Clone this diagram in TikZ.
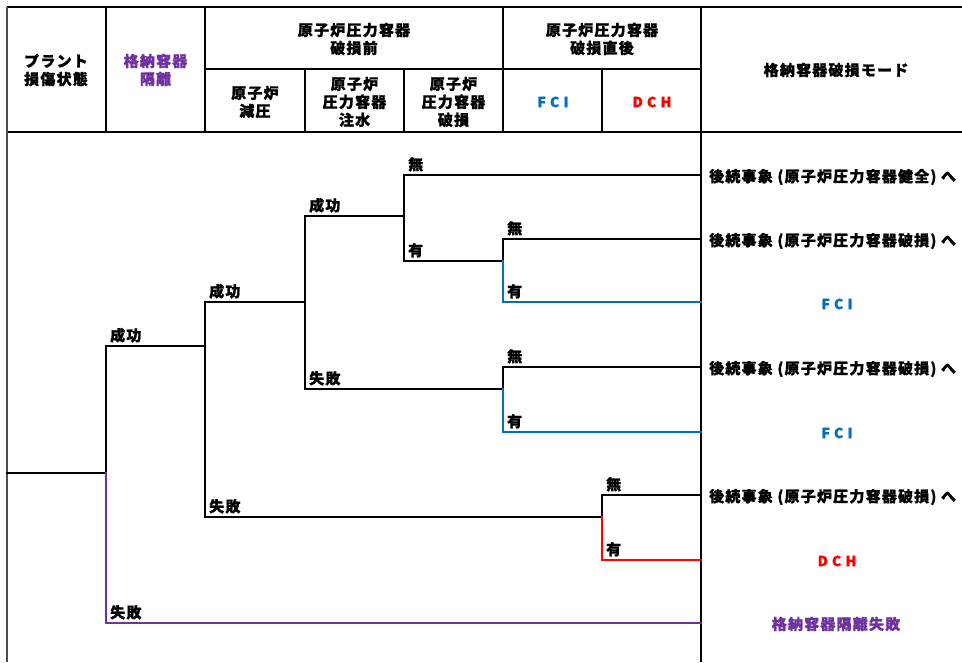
\documentclass[tikz,border=0pt]{standalone}
\usepackage{fontspec}
\setmainfont{Noto Sans CJK JP}
\definecolor{fciblue}{HTML}{0070C0}
\definecolor{dchred}{HTML}{FF0000}
\definecolor{isopurple}{HTML}{7030A0}
\tikzset{
  grid/.style={line width=1.6pt, black},
  tree/.style={line width=2pt, black, line cap=rect},
  jptext/.style={inner sep=0, font=\bfseries\fontsize{15}{18}\selectfont\addfontfeature{LetterSpace=8,FakeBold=1.2}},
  hdr/.style={jptext, align=center},
  lbl/.style={jptext, anchor=base west},
  res/.style={jptext, anchor=west},
  cres/.style={jptext, anchor=center},
  latin/.style={inner sep=0, font=\bfseries\fontsize{14}{14}\selectfont\addfontfeature{LetterSpace=30,FakeBold=1}}
}
\begin{document}
\begin{tikzpicture}[x=1pt,y=-1pt]
\useasboundingbox (0,0) rectangle (962,662);
\clip (0,0) rectangle (962,662);
\fill[white] (0,0) rectangle (962,662);

% header grid
\draw[grid] (7,7) -- (962,7);
\draw[grid] (7,132) -- (962,132);
\draw[grid] (205,69) -- (701,69);
\draw[line width=1.2pt, black!70] (7,7) -- (7,662);
\draw[grid] (106,7) -- (106,132);
\draw[grid] (205,7) -- (205,132);
\draw[grid] (305,69) -- (305,132);
\draw[grid] (404,69) -- (404,132);
\draw[grid] (503,7) -- (503,132);
\draw[grid] (602,69) -- (602,132);
\draw[grid] (701,7) -- (701,662);

% header texts
\node[hdr] (h1) at (56,70) {プラント\\損傷状態};
\node[hdr, text=isopurple] (h2) at (155.5,70) {格納容器\\隔離};
\node[hdr] (h3) at (354,39) {原子炉圧力容器\\破損前};
\node[hdr] (h4) at (255,102) {原子炉\\減圧};
\node[hdr] (h5) at (354.5,102) {原子炉\\圧力容器\\注水};
\node[hdr] (h6) at (453.5,102) {原子炉\\圧力容器\\破損};
\node[hdr] (h7) at (602,39) {原子炉圧力容器\\破損直後};
\node[latin, text=fciblue] (h8) at (553,102) {FCI};
\node[latin, text=dchred] (h9) at (652,102) {DCH};
\node[hdr] (h10) at (836,70) {格納容器破損モード};

% tree coordinates
\coordinate (r0) at (7,473);
\coordinate (a) at (106,473);
\coordinate (aS) at (106,346);
\coordinate (aF) at (106,623);
\coordinate (b) at (205,346);
\coordinate (bS) at (205,302);
\coordinate (bF) at (205,517);
\coordinate (c) at (305,302);
\coordinate (cS) at (305,216);
\coordinate (cF) at (305,389);
\coordinate (d) at (404,216);
\coordinate (dN) at (404,175);
\coordinate (dY) at (404,261);
\coordinate (e1) at (503,261);
\coordinate (e1N) at (503,239);
\coordinate (e1Y) at (503,302);
\coordinate (e2) at (503,389);
\coordinate (e2N) at (503,367);
\coordinate (e2Y) at (503,432);
\coordinate (g) at (602,517);
\coordinate (gN) at (602,495);
\coordinate (gY) at (602,560);
\coordinate (t1) at (701,175);
\coordinate (t2) at (701,239);
\coordinate (t3) at (701,302);
\coordinate (t4) at (701,367);
\coordinate (t5) at (701,432);
\coordinate (t6) at (701,495);
\coordinate (t7) at (701,560);
\coordinate (t8) at (701,623);

% black branches
\draw[tree] (r0) -- (a) -- (aS) -- (b);
\draw[tree] (bS) -- (bF);
\draw[tree] (bS) -- (c);
\draw[tree] (cS) -- (cF);
\draw[tree] (cS) -- (d);
\draw[tree] (dN) -- (dY);
\draw[tree] (dN) -- (t1);
\draw[tree] (dY) -- (e1) -- (e1N) -- (t2);
\draw[tree] (cF) -- (e2) -- (e2N) -- (t4);
\draw[tree] (bF) -- (g) -- (gN) -- (t6);
% coloured branches
\draw[tree, isopurple] (a) -- (aF) -- (t8);
\draw[tree, fciblue] (e1) -- (e1Y) -- (t3);
\draw[tree, fciblue] (e2) -- (e2Y) -- (t5);
\draw[tree, dchred] (g) -- (gY) -- (t7);

% branch labels
\node[lbl] (l1) at ([xshift=4pt,yshift=5pt]aS) {成功};
\node[lbl] (l2) at ([xshift=4pt,yshift=5pt]aF) {失敗};
\node[lbl] (l3) at ([xshift=4pt,yshift=5pt]bS) {成功};
\node[lbl] (l4) at ([xshift=4pt,yshift=5pt]bF) {失敗};
\node[lbl] (l5) at ([xshift=4pt,yshift=5pt]cS) {成功};
\node[lbl] (l6) at ([xshift=4pt,yshift=5pt]cF) {失敗};
\node[lbl] (l7) at ([xshift=4pt,yshift=5pt]dN) {無};
\node[lbl] (l8) at ([xshift=4pt,yshift=5pt]dY) {有};
\node[lbl] (l9) at ([xshift=4pt,yshift=5pt]e1N) {無};
\node[lbl] (l10) at ([xshift=4pt,yshift=5pt]e1Y) {有};
\node[lbl] (l11) at ([xshift=4pt,yshift=5pt]e2N) {無};
\node[lbl] (l12) at ([xshift=4pt,yshift=5pt]e2Y) {有};
\node[lbl] (l13) at ([xshift=4pt,yshift=5pt]gN) {無};
\node[lbl] (l14) at ([xshift=4pt,yshift=5pt]gY) {有};

% results
\node[res] (r1) at (709,177) {後続事象 (原子炉圧力容器健全) へ};
\node[res] (r2) at (709,241) {後続事象 (原子炉圧力容器破損) へ};
\node[latin, text=fciblue] (r3) at (837,304) {FCI};
\node[res] (r4) at (709,369) {後続事象 (原子炉圧力容器破損) へ};
\node[latin, text=fciblue] (r5) at (837,433) {FCI};
\node[res] (r6) at (709,497) {後続事象 (原子炉圧力容器破損) へ};
\node[latin, text=dchred] (r7) at (837,561) {DCH};
\node[cres, text=isopurple] (r8) at (836,624) {格納容器隔離失敗};
\end{tikzpicture}
\end{document}
